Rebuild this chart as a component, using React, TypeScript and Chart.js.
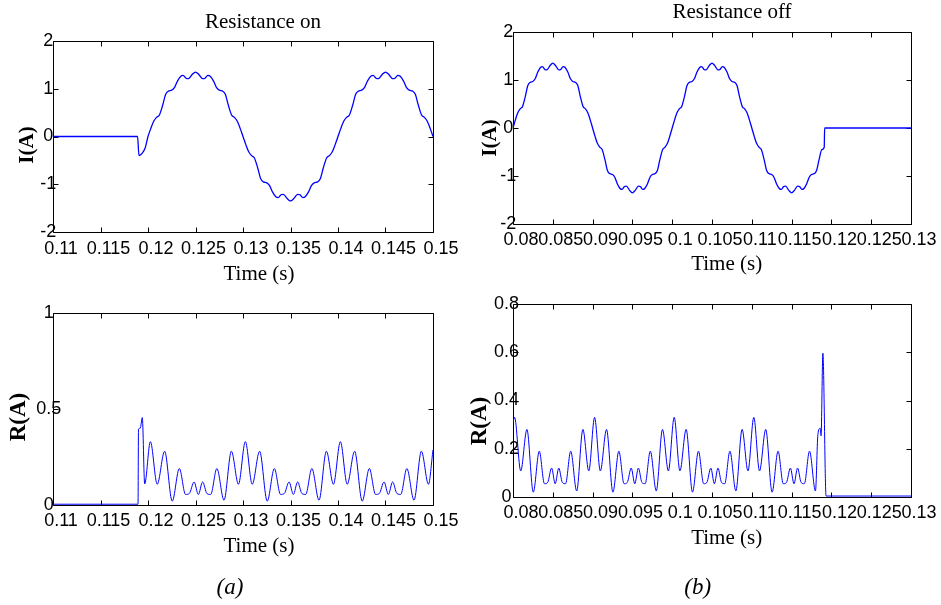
import { useEffect, useRef } from 'react';
import { Chart, registerables } from 'chart.js';

Chart.register(...registerables);

// ---------- tick values and labels ----------
const timeTicksOn = [0.11, 0.115, 0.12, 0.125, 0.13, 0.135, 0.14, 0.145, 0.15];
const timeLabelsOn = ['0.11', '0.115', '0.12', '0.125', '0.13', '0.135', '0.14', '0.145', '0.15'];
const timeTicksOff = [0.08, 0.085, 0.09, 0.095, 0.1, 0.105, 0.11, 0.115, 0.12, 0.125, 0.13];
const timeLabelsOff = ['0.08', '0.085', '0.09', '0.095', '0.1', '0.105', '0.11', '0.115', '0.12', '0.125', '0.13'];
const currentTicks = [-2, -1, 0, 1, 2];
const currentLabels = ['-2', '-1', '0', '1', '2'];
const rOnTicks = [0, 0.5, 1];
const rOnLabels = ['0', '0.5', '1'];
const rOffTicks = [0, 0.2, 0.4, 0.6, 0.8];
const rOffLabels = ['0', '0.2', '0.4', '0.6', '0.8'];

// ---------- series: [time (s), value] ----------
const iOnData = [
  [0.11, 0], [0.1189, 0], [0.11905, -0.40], [0.1194, -0.35], [0.1197, -0.24], [0.12, 0],
  [0.1203, 0.17], [0.1206, 0.32], [0.1209, 0.40], [0.1212, 0.45], [0.12155, 0.66], [0.12185, 0.88], [0.12215, 0.95], [0.1225, 0.97], [0.1228, 1.03], [0.1231, 1.16], [0.12345, 1.26], [0.1237, 1.28], [0.124, 1.22], [0.12425, 1.21], [0.12465, 1.30], [0.125, 1.35], [0.12535, 1.30], [0.12575, 1.21], [0.126, 1.22], [0.1263, 1.28], [0.12655, 1.26], [0.1269, 1.16], [0.1272, 1.03], [0.1275, 0.97], [0.12785, 0.95], [0.12815, 0.88], [0.12845, 0.66], [0.1288, 0.45], [0.1291, 0.40], [0.1294, 0.32], [0.1297, 0.17], [0.13, 0],
  [0.1303, -0.17], [0.1306, -0.32], [0.1309, -0.40], [0.1312, -0.45], [0.13155, -0.66], [0.13185, -0.88], [0.13215, -0.95], [0.1325, -0.97], [0.1328, -1.03], [0.1331, -1.16], [0.13345, -1.26], [0.1337, -1.28], [0.134, -1.22], [0.13425, -1.21], [0.13465, -1.30], [0.135, -1.35], [0.13535, -1.30], [0.13575, -1.21], [0.136, -1.22], [0.1363, -1.28], [0.13655, -1.26], [0.1369, -1.16], [0.1372, -1.03], [0.1375, -0.97], [0.13785, -0.95], [0.13815, -0.88], [0.13845, -0.66], [0.1388, -0.45], [0.1391, -0.40], [0.1394, -0.32], [0.1397, -0.17], [0.14, 0],
  [0.1403, 0.17], [0.1406, 0.32], [0.1409, 0.40], [0.1412, 0.45], [0.14155, 0.66], [0.14185, 0.88], [0.14215, 0.95], [0.1425, 0.97], [0.1428, 1.03], [0.1431, 1.16], [0.14345, 1.26], [0.1437, 1.28], [0.144, 1.22], [0.14425, 1.21], [0.14465, 1.30], [0.145, 1.35], [0.14535, 1.30], [0.14575, 1.21], [0.146, 1.22], [0.1463, 1.28], [0.14655, 1.26], [0.1469, 1.16], [0.1472, 1.03], [0.1475, 0.97], [0.14785, 0.95], [0.14815, 0.88], [0.14845, 0.66], [0.1488, 0.45], [0.1491, 0.40], [0.1494, 0.32], [0.1497, 0.17], [0.15, 0],
];

const iOffData = [
  [0.08, 0],
  [0.0803, 0.17], [0.0806, 0.32], [0.0809, 0.40], [0.0812, 0.45], [0.08155, 0.66], [0.08185, 0.88], [0.08215, 0.95], [0.0825, 0.97], [0.0828, 1.03], [0.0831, 1.16], [0.08345, 1.26], [0.0837, 1.28], [0.084, 1.22], [0.08425, 1.21], [0.08465, 1.30], [0.085, 1.35], [0.08535, 1.30], [0.08575, 1.21], [0.086, 1.22], [0.0863, 1.28], [0.08655, 1.26], [0.0869, 1.16], [0.0872, 1.03], [0.0875, 0.97], [0.08785, 0.95], [0.08815, 0.88], [0.08845, 0.66], [0.0888, 0.45], [0.0891, 0.40], [0.0894, 0.32], [0.0897, 0.17], [0.09, 0],
  [0.0903, -0.17], [0.0906, -0.32], [0.0909, -0.40], [0.0912, -0.45], [0.09155, -0.66], [0.09185, -0.88], [0.09215, -0.95], [0.0925, -0.97], [0.0928, -1.03], [0.0931, -1.16], [0.09345, -1.26], [0.0937, -1.28], [0.094, -1.22], [0.09425, -1.21], [0.09465, -1.30], [0.095, -1.35], [0.09535, -1.30], [0.09575, -1.21], [0.096, -1.22], [0.0963, -1.28], [0.09655, -1.26], [0.0969, -1.16], [0.0972, -1.03], [0.0975, -0.97], [0.09785, -0.95], [0.09815, -0.88], [0.09845, -0.66], [0.0988, -0.45], [0.0991, -0.40], [0.0994, -0.32], [0.0997, -0.17], [0.1, 0],
  [0.1003, 0.17], [0.1006, 0.32], [0.1009, 0.40], [0.1012, 0.45], [0.10155, 0.66], [0.10185, 0.88], [0.10215, 0.95], [0.1025, 0.97], [0.1028, 1.03], [0.1031, 1.16], [0.10345, 1.26], [0.1037, 1.28], [0.104, 1.22], [0.10425, 1.21], [0.10465, 1.30], [0.105, 1.35], [0.10535, 1.30], [0.10575, 1.21], [0.106, 1.22], [0.1063, 1.28], [0.10655, 1.26], [0.1069, 1.16], [0.1072, 1.03], [0.1075, 0.97], [0.10785, 0.95], [0.10815, 0.88], [0.10845, 0.66], [0.1088, 0.45], [0.1091, 0.40], [0.1094, 0.32], [0.1097, 0.17], [0.11, 0],
  [0.1103, -0.17], [0.1106, -0.32], [0.1109, -0.40], [0.1112, -0.45], [0.11155, -0.66], [0.11185, -0.88], [0.11215, -0.95], [0.1125, -0.97], [0.1128, -1.03], [0.1131, -1.16], [0.11345, -1.26], [0.1137, -1.28], [0.114, -1.22], [0.11425, -1.21], [0.11465, -1.30], [0.115, -1.35], [0.11535, -1.30], [0.11575, -1.21], [0.116, -1.22], [0.1163, -1.28], [0.11655, -1.26], [0.1169, -1.16], [0.1172, -1.03], [0.1175, -0.97], [0.11785, -0.95], [0.11815, -0.88], [0.11845, -0.66], [0.1188, -0.45], [0.1191, -0.40],
  [0.11915, 0], [0.13, 0],
];

const rOnData = [
  [0.11, 0.004], [0.11895, 0.004], [0.119, 0.395], [0.11918, 0.40], [0.1194, 0.455], [0.11965, 0.11],
  [0.12025, 0.33], [0.12097, 0.108], [0.12175, 0.28], [0.12255, 0.02], [0.1233, 0.19], [0.12395, 0.055], [0.12435, 0.06], [0.12485, 0.12], [0.1253, 0.055], [0.12575, 0.12], [0.1262, 0.06], [0.1266, 0.055], [0.12725, 0.19], [0.128, 0.025], [0.12878, 0.28], [0.12952, 0.108],
  [0.13025, 0.33], [0.13097, 0.108], [0.13175, 0.28], [0.13255, 0.02], [0.1333, 0.19], [0.13395, 0.055], [0.13435, 0.06], [0.13485, 0.12], [0.1353, 0.055], [0.13575, 0.12], [0.1362, 0.06], [0.1366, 0.055], [0.13725, 0.19], [0.138, 0.025], [0.13878, 0.28], [0.13952, 0.108],
  [0.14025, 0.33], [0.14097, 0.108], [0.14175, 0.28], [0.14255, 0.02], [0.1433, 0.19], [0.14395, 0.055], [0.14435, 0.06], [0.14485, 0.12], [0.1453, 0.055], [0.14575, 0.12], [0.1462, 0.06], [0.1466, 0.055], [0.14725, 0.19], [0.148, 0.025], [0.14878, 0.28], [0.14952, 0.108],
  [0.15, 0.287],
];

const rOffData = [
  [0.08, 0.31], [0.0802, 0.33],
  [0.08097, 0.108], [0.08175, 0.28], [0.08255, 0.02], [0.0833, 0.19], [0.08395, 0.055], [0.08435, 0.06], [0.08485, 0.12], [0.0853, 0.055], [0.08575, 0.12], [0.0862, 0.06], [0.0866, 0.055], [0.08725, 0.19], [0.088, 0.025], [0.08878, 0.28], [0.08952, 0.108],
  [0.09025, 0.33], [0.09097, 0.108], [0.09175, 0.28], [0.09255, 0.02], [0.0933, 0.19], [0.09395, 0.055], [0.09435, 0.06], [0.09485, 0.12], [0.0953, 0.055], [0.09575, 0.12], [0.0962, 0.06], [0.0966, 0.055], [0.09725, 0.19], [0.098, 0.025], [0.09878, 0.28], [0.09952, 0.108],
  [0.10025, 0.33], [0.10097, 0.108], [0.10175, 0.28], [0.10255, 0.02], [0.1033, 0.19], [0.10395, 0.055], [0.10435, 0.06], [0.10485, 0.12], [0.1053, 0.055], [0.10575, 0.12], [0.1062, 0.06], [0.1066, 0.055], [0.10725, 0.19], [0.108, 0.025], [0.10878, 0.28], [0.10952, 0.108],
  [0.11025, 0.33], [0.11097, 0.108], [0.11175, 0.28], [0.11255, 0.02], [0.1133, 0.19], [0.11395, 0.055], [0.11435, 0.06], [0.11485, 0.12], [0.1153, 0.055], [0.11575, 0.12], [0.1162, 0.06], [0.1166, 0.055], [0.11725, 0.19], [0.118, 0.025],
  [0.1183, 0.258], [0.1186, 0.285], [0.1187, 0.254], [0.11893, 0.596], [0.11933, 0.004], [0.13, 0.004],
];

// ---------- drawing helpers ----------
const boxPlugin = {
  id: 'matlabBox',
  beforeDatasetsDraw(chart: any) {
    const { ctx, chartArea, scales } = chart;
    const { left, right, top, bottom } = chartArea;
    const L = Math.round(left) + 0.5;
    const R = Math.round(right) + 0.5;
    const T = Math.round(top) + 0.5;
    const B = Math.round(bottom) + 0.5;
    const tl = 5;
    ctx.save();
    ctx.strokeStyle = '#000';
    ctx.lineWidth = 1;
    ctx.beginPath();
    ctx.rect(L, T, R - L, B - T);
    scales.x.ticks.forEach((t: any) => {
      const px = Math.round(scales.x.getPixelForValue(t.value)) + 0.5;
      ctx.moveTo(px, B);
      ctx.lineTo(px, B - tl);
      ctx.moveTo(px, T);
      ctx.lineTo(px, T + tl);
    });
    scales.y.ticks.forEach((t: any) => {
      const py = Math.round(scales.y.getPixelForValue(t.value)) + 0.5;
      ctx.moveTo(L, py);
      ctx.lineTo(L + tl, py);
      ctx.moveTo(R, py);
      ctx.lineTo(R - tl, py);
    });
    ctx.stroke();
    ctx.restore();
  },
};

type PanelProps = {
  left: number; top: number; width: number; height: number;
  data: number[][]; lineWidth: number;
  xTicks: number[]; xLabels: string[]; xMin: number; xMax: number;
  yTicks: number[]; yLabels: string[]; yMin: number; yMax: number;
  area: { l: number; r: number; t: number; b: number };
  yPad: number; xPad: number;
};

function Panel(p: PanelProps) {
  const ref = useRef<HTMLCanvasElement | null>(null);
  useEffect(() => {
    if (!ref.current) return;
    const tickFont = { family: "'Liberation Sans', Arial, sans-serif", size: 18 };
    const chart = new Chart(ref.current, {
      type: 'line',
      data: {
        datasets: [{
          data: p.data.map(([x, y]) => ({ x, y })),
          borderColor: '#0000ff',
          borderWidth: p.lineWidth,
          pointRadius: 0,
          fill: false,
          cubicInterpolationMode: 'monotone',
        }],
      },
      options: {
        animation: false,
        responsive: false,
        events: [],
        layout: { padding: { left: 0, top: p.area.t, right: p.width - p.area.r, bottom: 0 } },
        plugins: { legend: { display: false }, tooltip: { enabled: false } },
        scales: {
          x: {
            type: 'linear',
            min: p.xMin,
            max: p.xMax,
            grid: { display: false, drawTicks: false },
            border: { display: false },
            afterBuildTicks: (axis: any) => { axis.ticks = p.xTicks.map((v) => ({ value: v })); },
            afterFit: (s: any) => { s.height = p.height - p.area.b; s.paddingLeft = 0; s.paddingRight = 0; },
            ticks: {
              autoSkip: false,
              maxRotation: 0,
              minRotation: 0,
              padding: p.xPad,
              labelOffset: 8,
              color: '#000',
              font: tickFont,
              callback: (_v: any, i: number) => p.xLabels[i],
            },
          },
          y: {
            type: 'linear',
            min: p.yMin,
            max: p.yMax,
            grid: { display: false, drawTicks: false },
            border: { display: false },
            afterBuildTicks: (axis: any) => { axis.ticks = p.yTicks.map((v) => ({ value: v })); },
            afterFit: (s: any) => { s.width = p.area.l; s.paddingTop = 0; s.paddingBottom = 0; },
            ticks: {
              autoSkip: false,
              mirror: true,
              crossAlign: 'center',
              padding: p.yPad,
              color: '#000',
              font: tickFont,
              callback: (_v: any, i: number) => p.yLabels[i],
            },
          },
        },
      } as any,
      plugins: [boxPlugin],
    });
    return () => chart.destroy();
  }, []);
  return (
    <canvas
      ref={ref}
      width={p.width}
      height={p.height}
      style={{ position: 'absolute', left: p.left, top: p.top, width: p.width, height: p.height }}
    />
  );
}

function Txt(props: { x: number; y: number; text: string; size: number; weight?: string; italic?: boolean; rot?: number }) {
  return (
    <div
      style={{
        position: 'absolute',
        left: props.x,
        top: props.y,
        transform: `translate(-50%, -50%) rotate(${props.rot || 0}deg)`,
        fontFamily: "'Liberation Serif', 'Times New Roman', serif",
        fontSize: props.size,
        fontWeight: props.weight || 'normal',
        fontStyle: props.italic ? 'italic' : 'normal',
        lineHeight: 1,
        whiteSpace: 'nowrap',
        color: '#000',
        zIndex: 2,
      }}
    >
      {props.text}
    </div>
  );
}

export default function App() {
  return (
    <div style={{ position: 'fixed', left: 0, top: 0, width: 941, height: 605, background: '#fff', overflow: 'hidden' }}>
      <Panel left={0} top={0} width={470} height={290} data={iOnData} lineWidth={1.3}
        xTicks={timeTicksOn} xLabels={timeLabelsOn} xMin={0.11} xMax={0.15}
        yTicks={currentTicks} yLabels={currentLabels} yMin={-2} yMax={2}
        area={{ l: 53, r: 433, t: 41, b: 232 }} yPad={-12.7} xPad={6} />
      <Panel left={470} top={0} width={471} height={290} data={iOffData} lineWidth={1.3}
        xTicks={timeTicksOff} xLabels={timeLabelsOff} xMin={0.08} xMax={0.13}
        yTicks={currentTicks} yLabels={currentLabels} yMin={-2} yMax={2}
        area={{ l: 43, r: 441, t: 32, b: 224 }} yPad={-12.8} xPad={5} />
      <Panel left={0} top={290} width={470} height={315} data={rOnData} lineWidth={1}
        xTicks={timeTicksOn} xLabels={timeLabelsOn} xMin={0.11} xMax={0.15}
        yTicks={rOnTicks} yLabels={rOnLabels} yMin={0} yMax={1}
        area={{ l: 53, r: 433, t: 23, b: 215 }} yPad={-16.8} xPad={5} />
      <Panel left={470} top={290} width={471} height={315} data={rOffData} lineWidth={1}
        xTicks={timeTicksOff} xLabels={timeLabelsOff} xMin={0.08} xMax={0.13}
        yTicks={rOffTicks} yLabels={rOffLabels} yMin={0} yMax={0.8}
        area={{ l: 43, r: 441, t: 14, b: 207 }} yPad={-19} xPad={5} />

      <Txt x={263} y={20.5} text="Resistance on" size={21} />
      <Txt x={732} y={11} text="Resistance off" size={21} />
      <Txt x={259} y={272.8} text="Time (s)" size={21} />
      <Txt x={726.7} y={263.3} text="Time (s)" size={21} />
      <Txt x={259} y={545} text="Time (s)" size={21} />
      <Txt x={726.7} y={536.7} text="Time (s)" size={21} />
      <Txt x={26.2} y={145} text="I(A)" size={21} weight="bold" rot={-90} />
      <Txt x={489.2} y={138} text="I(A)" size={21} weight="bold" rot={-90} />
      <Txt x={17.4} y={417} text="R(A)" size={23} weight="bold" rot={-90} />
      <Txt x={477.7} y={420.5} text="R(A)" size={23} weight="bold" rot={-90} />
      <Txt x={230} y={586} text="(a)" size={23} italic />
      <Txt x={697.7} y={586} text="(b)" size={23} italic />
    </div>
  );
}
